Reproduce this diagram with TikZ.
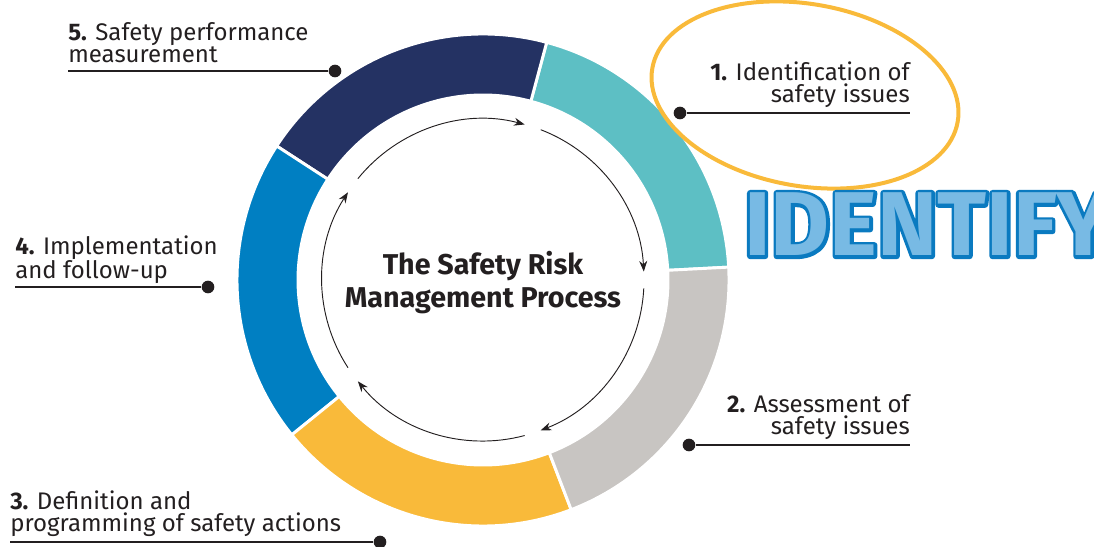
\documentclass[tikz,border=0pt]{standalone}
\usepackage{fontspec}
\setmainfont{Fira Sans}
\newfontfamily\idoutline{Fira Sans}[BoldFeatures={FakeBold=7}]
\usetikzlibrary{arrows.meta}

\definecolor{segteal}{RGB}{93,191,196}
\definecolor{segnavy}{RGB}{36,50,99}
\definecolor{segblue}{RGB}{0,127,194}
\definecolor{segyellow}{RGB}{249,186,58}
\definecolor{seggray}{RGB}{200,197,194}
\definecolor{textdark}{RGB}{35,31,32}
\definecolor{idblue}{RGB}{10,122,192}
\definecolor{idfill}{RGB}{120,186,228}

\begin{document}
\begin{tikzpicture}[x=0.75pt,y=0.75pt]
\tikzset{
	seg/.style={draw=white, line width=2.2pt},
	flow/.style={-{Stealth[length=8pt,width=6pt]}, line width=0.7pt, draw=textdark},
	lbl/.style={inner sep=0pt, font=\fontsize{18}{16.5}\selectfont, text=textdark},
	dot/.style={circle, fill=textdark, inner sep=0pt, minimum size=9.5pt},
	leader/.style={line width=1.4pt, draw=textdark},
	title/.style={inner sep=0pt, align=center, text=textdark,
		font=\fontsize{21.5}{24.75}\selectfont\bfseries},
	bigword/.style={anchor=base west, inner sep=0pt, font=\fontsize{68}{68}\selectfont\bfseries},
}
\path[use as bounding box, clip] (0,0) rectangle (1094,546);
\coordinate (C) at (483,266);

% the five segments of the ring
\foreach \col [count=\i from 0] in {segteal,segnavy,segblue,segyellow,seggray}{
	\pgfmathsetmacro{\s}{3+72*\i}
	\pgfmathsetmacro{\e}{75+72*\i}
	\filldraw[seg, fill=\col] ([shift={(\s:246)}]C) arc[start angle=\s, end angle=\e, radius=246]
		-- ([shift={(\e:185)}]C) arc[start angle=\e, end angle=\s, radius=185] -- cycle;
}

% inner cycle arrows
\foreach \k in {0,...,4}{
	\pgfmathsetmacro{\s}{69+72*\k}
	\pgfmathsetmacro{\e}{3+72*\k}
	\draw[flow] ([shift={(\s:161)}]C) arc[start angle=\s, end angle=\e, radius=161];
}

\node[title] (title) at (483,263) {The Safety Risk\\Management Process};

\draw[line width=3pt, draw=segyellow, rotate around={-10:(805,451)}] (805,451) ellipse[x radius=155, y radius=91];

% outlined word: thick blue copy below, light copy on top
\node[bigword, text=idblue, line join=round] (identout) at (744,290) {\idoutline IDENTIFY};
\node[bigword, text=idfill] (ident) at (identout.base west) {IDENTIFY};

% labels
\node[lbl, anchor=base east, align=right] (l1) at (910,443) {\textbf{1.} Identification of\\safety issues};
\node[dot] (d1) at (680,433) {};
\coordinate (e1) at (910,433);
\draw[leader] (d1) -- (e1);

\node[lbl, anchor=base east, align=right] (l2) at (910,112) {\textbf{2.} Assessment of\\safety issues};
\node[dot] (d2) at (689,101) {};
\coordinate (e2) at (910,101);
\draw[leader] (d2) -- (e2);

\node[lbl, anchor=base west, align=left] (l3) at (10,15) {\textbf{3.} Definition and\\programming of safety actions};
\node[dot] (d3) at (380,4) {};
\coordinate (e3) at (10,4);
\draw[leader] (d3) -- (e3);

\node[lbl, anchor=base west, align=left] (l4) at (15,267) {\textbf{4.} Implementation\\and follow-up};
\node[dot] (d4) at (208,259) {};
\coordinate (e4) at (15,259);
\draw[leader] (d4) -- (e4);

\node[lbl, anchor=base west, align=left] (l5) at (68,483) {\textbf{5.} Safety performance\\measurement};
\node[dot] (d5) at (335,475) {};
\coordinate (e5) at (68,475);
\draw[leader] (d5) -- (e5);
\end{tikzpicture}
\end{document}
